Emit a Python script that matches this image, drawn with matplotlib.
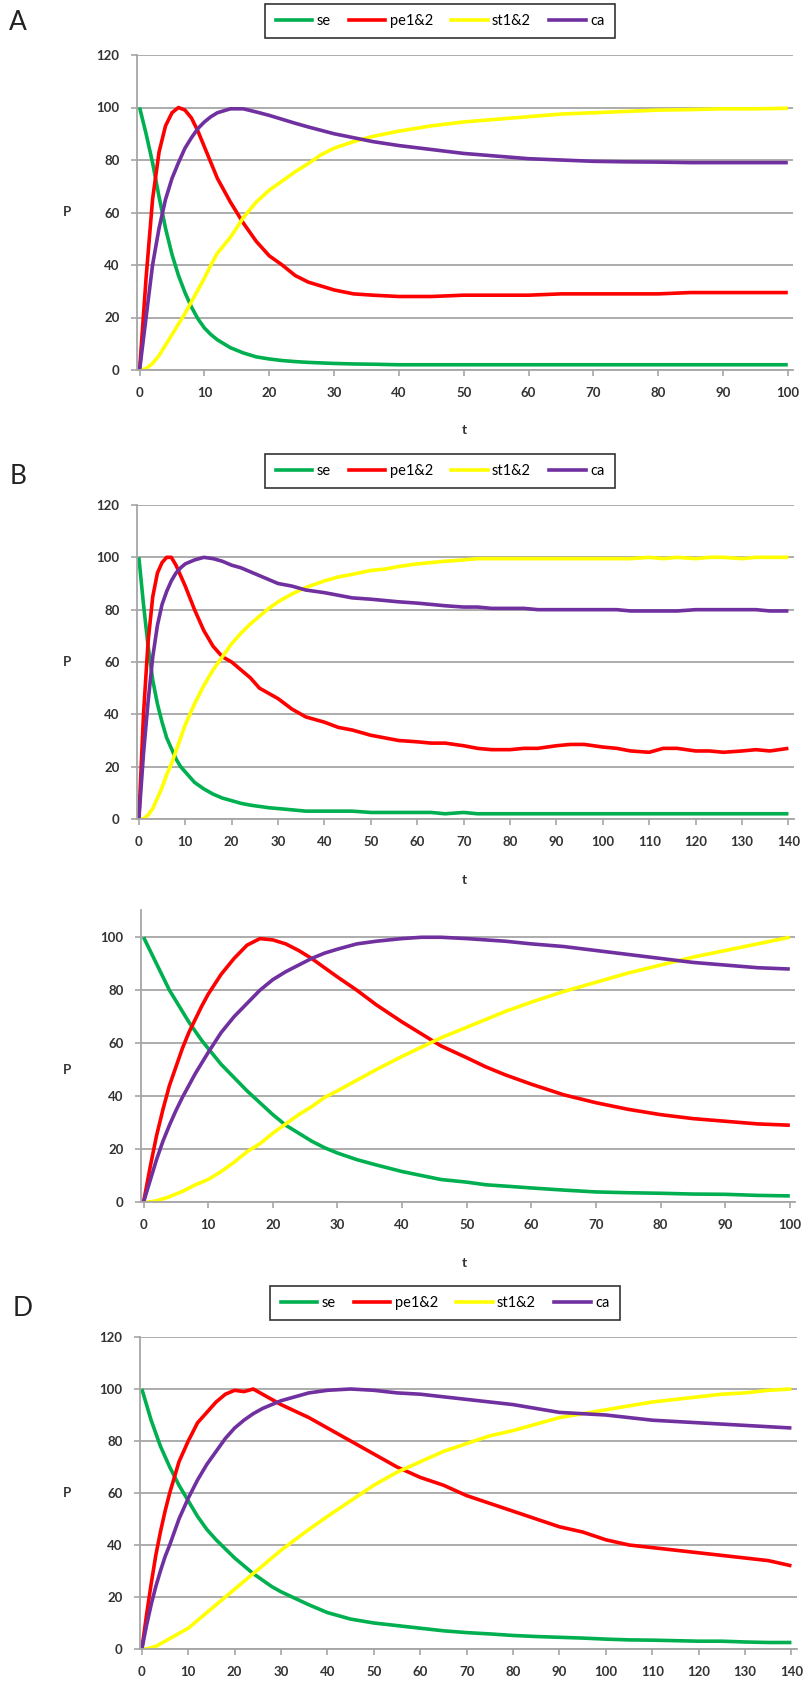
import matplotlib
matplotlib.use("Agg")
import matplotlib.pyplot as plt
from matplotlib.lines import Line2D

plt.rcParams['font.family'] = ['Lato', 'DejaVu Sans']

series_names = ["se", "pe1&2", "st1&2", "ca"]
series_colors = ["#00B050", "#FF0000", "#FFFF00", "#7030A0"]

# panel A
t_a = [0, 1, 2, 3, 4, 5, 6, 7, 8, 9, 10, 11, 12, 14, 16, 18, 20, 22, 24, 26, 28, 30,
       33, 36, 40, 45, 50, 55, 60, 65, 70, 75, 80, 85, 90, 95, 100]
se_a = [100, 90, 79, 66, 54, 44, 36, 29.5, 24, 19.5, 16, 13.5, 11.5, 8.5, 6.5, 5, 4.2, 3.6, 3.2,
        2.9, 2.7, 2.5, 2.3, 2.2, 2, 2, 2, 2, 2, 2, 2, 2, 2, 2, 2, 2, 2]
pe_a = [0, 35, 65, 83, 93, 98, 100, 99, 96, 91, 85, 79, 73, 64, 56, 49, 43.5, 40, 36, 33.5, 32, 30.5,
        29, 28.5, 28, 28, 28.5, 28.5, 28.5, 29, 29, 29, 29, 29.5, 29.5, 29.5, 29.5]
st_a = [0, 0.5, 2.5, 5.5, 9.5, 13.5, 17.5, 21.5, 26, 30.5, 35, 40, 44.5, 50.5, 58, 64, 68.5, 72, 75.5,
        78.6, 82, 84.5, 87, 89, 91, 93, 94.5, 95.5, 96.5, 97.5, 98, 98.5, 99, 99.2, 99.5, 99.5, 99.7]
ca_a = [0, 20, 40, 54, 65, 73, 79, 84.5, 88.5, 92, 94.5, 96.5, 98, 99.5, 99.5, 98.3, 97, 95.5, 94,
        92.6, 91.3, 90, 88.5, 87, 85.5, 84, 82.5, 81.5, 80.5, 80, 79.5, 79.3, 79.2, 79, 79, 79, 79]

# panel B
t_b = [0, 1, 2, 3, 4, 5, 6, 7, 8, 9, 10, 12, 14, 16, 18, 20, 22, 24, 26, 28, 30, 33, 36, 40, 43,
       46, 50, 53, 56, 60, 63, 66, 70, 73, 76, 80, 83, 86, 90, 93, 96, 100, 103, 106, 110, 113,
       116, 120, 123, 126, 130, 133, 136, 140]
se_b = [100, 82, 66, 53, 44, 37, 31, 27, 23, 20, 18, 14, 11.5, 9.5, 8, 7, 6, 5.3, 4.8, 4.3, 4,
        3.5, 3, 3, 3, 3, 2.5, 2.5, 2.5, 2.5, 2.5, 2, 2.5, 2, 2, 2, 2, 2, 2, 2, 2, 2, 2, 2, 2, 2,
        2, 2, 2, 2, 2, 2, 2, 2]
pe_b = [0, 40, 68, 85, 94, 98, 100, 100, 97, 93, 89, 80, 72, 66, 62, 60, 57, 54, 50, 48, 46, 42,
        39, 37, 35, 34, 32, 31, 30, 29.5, 29, 29, 28, 27, 26.5, 26.5, 27, 27, 28, 28.5, 28.5,
        27.5, 27, 26, 25.5, 27, 27, 26, 26, 25.5, 26, 26.5, 26, 27]
st_b = [0, 0, 1.5, 4, 8, 12, 17, 21, 26, 31, 36, 44, 51, 57, 62, 67, 71, 74.5, 77.5, 80.5, 83,
        86, 88.5, 91, 92.5, 93.5, 95, 95.5, 96.5, 97.5, 98, 98.5, 99, 99.5, 99.5, 99.5, 99.5,
        99.5, 99.5, 99.5, 99.5, 99.5, 99.5, 99.5, 100, 99.5, 100, 99.5, 100, 100, 99.5, 100,
        100, 100]
ca_b = [0, 25, 45, 62, 74, 82, 87, 91, 94, 96, 97.5, 99, 100, 99.5, 98.5, 97, 96, 94.5, 93,
        91.5, 90, 89, 87.5, 86.5, 85.5, 84.5, 84, 83.5, 83, 82.5, 82, 81.5, 81, 81, 80.5, 80.5,
        80.5, 80, 80, 80, 80, 80, 80, 79.5, 79.5, 79.5, 79.5, 80, 80, 80, 80, 80, 79.5, 79.5]

# panel C
t_c = [0, 1, 2, 3, 4, 5, 6, 7, 8, 9, 10, 12, 14, 16, 18, 20, 22, 24, 26, 28, 30, 33, 36, 40,
       43, 46, 50, 53, 56, 60, 65, 70, 75, 80, 85, 90, 95, 100]
se_c = [100, 95, 90, 85, 80, 76, 72, 68, 64.5, 61, 58, 52, 47, 42, 37.5, 33, 29, 26, 23, 20.5,
        18.5, 16, 14, 11.5, 10, 8.5, 7.5, 6.5, 6, 5.3, 4.5, 3.8, 3.5, 3.3, 3, 2.9, 2.5, 2.3]
pe_c = [0, 13, 25, 35, 44, 51, 58, 64, 69, 74, 78.5, 86, 92, 97, 99.5, 99, 97.5, 95, 92, 88.5,
        85, 80, 74.5, 68, 63.5, 59, 54.5, 51, 48, 44.5, 40.5, 37.5, 35, 33, 31.5, 30.5, 29.5, 29]
st_c = [0, 0, 0.5, 1.2, 2, 3, 4, 5.2, 6.5, 7.5, 8.5, 11.5, 15, 19, 22, 26, 29.5, 33, 36, 39.5,
        42, 46, 50, 55, 58.5, 62, 66, 69, 72, 75.5, 79.5, 83, 86.5, 89.5, 92.5, 95, 97.5, 100]
ca_c = [0, 8, 16, 23, 29, 34.5, 39.5, 44, 48.5, 52.5, 56.5, 64, 70, 75, 80, 84, 87, 89.5, 92,
        94, 95.5, 97.5, 98.5, 99.5, 100, 100, 99.5, 99, 98.5, 97.5, 96.5, 95, 93.5, 92, 90.5,
        89.5, 88.5, 88]

# panel D
t_d = [0, 1, 2, 3, 4, 5, 6, 8, 10, 12, 14, 16, 18, 20, 22, 24, 26, 28, 30, 33, 36, 40, 45, 50,
       55, 60, 65, 70, 75, 80, 85, 90, 95, 100, 105, 110, 115, 120, 125, 130, 135, 140]
se_d = [100, 94, 88, 83, 78, 74, 70, 63, 57, 51, 46, 42, 38.5, 35, 32, 29, 26.5, 24, 22, 19.5,
        17, 14, 11.5, 10, 9, 8, 7, 6.3, 5.8, 5.2, 4.8, 4.5, 4.2, 3.8, 3.5, 3.4, 3.2, 3, 3, 2.7,
        2.5, 2.5]
pe_d = [0, 13, 25, 36, 45, 53, 60, 72, 80, 87, 91, 95, 98, 99.5, 99, 100, 98, 96, 94, 91.5,
        89, 85, 80, 75, 70, 66, 63, 59, 56, 53, 50, 47, 45, 42, 40, 39, 38, 37, 36, 35, 34, 32]
st_d = [0, 0, 0.5, 1, 2, 3, 4, 6, 8, 11, 14, 17, 20, 23, 26, 29, 32, 35, 38, 42, 46, 51, 57, 63,
        68, 72, 76, 79, 82, 84, 86.5, 89, 90.5, 92, 93.5, 95, 96, 97, 98, 98.5, 99.5, 100]
ca_d = [0, 9, 17, 24, 30, 35.5, 40, 50, 58, 65, 71, 76, 81, 85, 88, 90.5, 92.5, 94, 95.5, 97,
        98.5, 99.5, 100, 99.5, 98.5, 98, 97, 96, 95, 94, 92.5, 91, 90.5, 90, 89, 88, 87.5, 87,
        86.5, 86, 85.5, 85]

W, H = 808, 1688
fig = plt.figure(figsize=(W / 100, H / 100), dpi=100)

GRID = "#A6A6A6"
TXT = "#333333"


def px_axes(left, right, top, bottom):
    return fig.add_axes([left / W, 1 - bottom / H, (right - left) / W, (bottom - top) / H])


def style(ax, xmax, ymax, xticks):
    ax.set_xlim(-0.4, xmax)
    ax.set_ylim(0, ymax)
    ax.set_xticks(xticks)
    ax.set_yticks(range(0, 121, 20) if ymax >= 120 else range(0, 101, 20))
    ax.grid(axis="y", color=GRID, linewidth=1.3)
    ax.set_axisbelow(True)
    for s in ["top", "right"]:
        ax.spines[s].set_visible(False)
    for s in ["left", "bottom"]:
        ax.spines[s].set_color(GRID)
        ax.spines[s].set_linewidth(1.3)
    ax.tick_params(colors=GRID, length=4, width=1.2, pad=8.5)
    for lab in ax.get_xticklabels() + ax.get_yticklabels():
        lab.set_color(TXT)
        lab.set_fontsize(9.5)
        lab.set_fontweight("bold")


def draw(ax, t, data):
    for vals, c in zip(data, series_colors):
        ax.plot(t, vals, color=c, linewidth=2.6, solid_capstyle="butt")


def legend(ax, cx, cy):
    handles = [Line2D([], [], color=c, linewidth=2.6) for c in series_colors]
    leg = ax.legend(handles, series_names, loc="center", bbox_to_anchor=(cx / W, 1 - cy / H),
                    bbox_transform=fig.transFigure, ncol=4, frameon=True, fancybox=False,
                    edgecolor="black", handlelength=2.5, handletextpad=0.3, columnspacing=1.25,
                    borderpad=0.7, prop={"size": 10.5})
    leg.get_frame().set_linewidth(1.2)


def labels(ax_top, ax_bottom, tx_y):
    fig.text(67 / W, 1 - ((ax_top + ax_bottom) / 2) / H, "P", fontsize=9.5, fontweight="bold",
             color=TXT, ha="center", va="center")
    if tx_y is not None:
        fig.text(464 / W, 1 - tx_y / H, "t", fontsize=10, fontweight="bold", color=TXT,
                 ha="center", va="center")


# A
ax = px_axes(137, 793, 55, 370)
draw(ax, t_a, [se_a, pe_a, st_a, ca_a])
style(ax, 100.8, 120, range(0, 101, 10))
legend(ax, 440, 21)
labels(55, 370, 430)
fig.text(9 / W, 1 - 22 / H, "A", fontsize=19, va="center", color="#222222")

# B
ax = px_axes(137, 794, 505, 819)
draw(ax, t_b, [se_b, pe_b, st_b, ca_b])
style(ax, 141.2, 120, range(0, 141, 10))
legend(ax, 440, 471)
labels(505, 819, 880)
fig.text(10 / W, 1 - 477 / H, "B", fontsize=19, va="center", color="#222222")

# C
ax = px_axes(141, 795, 910, 1202)
draw(ax, t_c, [se_c, pe_c, st_c, ca_c])
style(ax, 100.8, 110.3, range(0, 101, 10))
labels(937, 1202, 1263)

# D
ax = px_axes(140, 797, 1337, 1649)
draw(ax, t_d, [se_d, pe_d, st_d, ca_d])
style(ax, 141.2, 120, range(0, 141, 10))
legend(ax, 445, 1303)
labels(1337, 1649, None)
fig.text(13 / W, 1 - 1309 / H, "D", fontsize=19, va="center", color="#222222")

fig.savefig("out.png", dpi=100)
